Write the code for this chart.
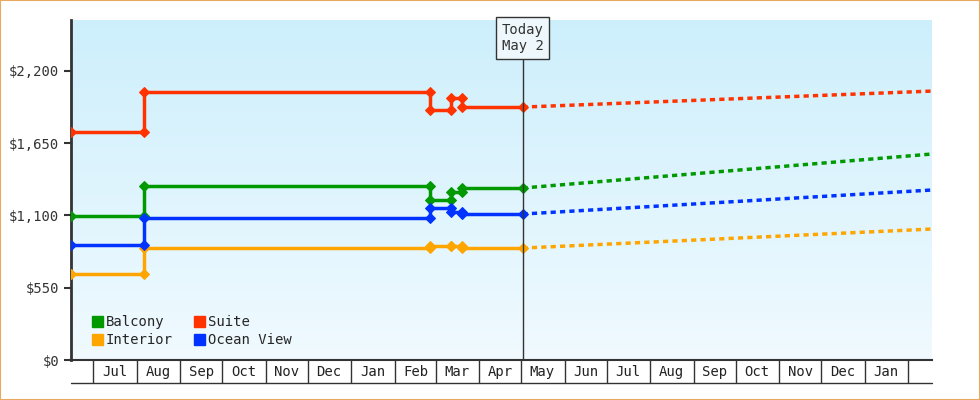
import numpy as np, pandas as pd, matplotlib
matplotlib.use("Agg")
import matplotlib.pyplot as plt, seaborn as sns
import matplotlib.dates as mdates
from matplotlib.lines import Line2D
from matplotlib.patches import Patch
from matplotlib.colors import LinearSegmentedColormap

sns.set_style("white")
plt.rcParams['font.family'] = ['DejaVu Sans Mono']

dates = ["2023-06-15","2023-08-06","2023-08-06","2024-02-26","2024-02-26","2024-03-12","2024-03-12","2024-03-20","2024-03-20","2024-05-02"]
suite    = [1735,1735,2040,2040,1903,1903,1994,1994,1925,1925]
balcony  = [1096,1096,1324,1324,1218,1218,1278,1278,1309,1309]
ocean    = [875,875,1081,1081,1157,1157,1126,1126,1111,1111]
interior = [654,654,852,852,868,868,868,868,852,852]
fc_dates = ["2024-05-02","2025-02-18"]
fc_suite = [1925,2047]; fc_balcony=[1309,1568]; fc_ocean=[1111,1294]; fc_interior=[852,997]
names = ["Balcony","Interior","Suite","Ocean View"]
colors = {"Balcony":"#009900","Suite":"#ff3300","Interior":"#ffa500","Ocean View":"#0033ff"}
hist = {"Balcony":balcony,"Suite":suite,"Interior":interior,"Ocean View":ocean}
fc = {"Balcony":fc_balcony,"Suite":fc_suite,"Interior":fc_interior,"Ocean View":fc_ocean}
months = ["Jul","Aug","Sep","Oct","Nov","Dec","Jan","Feb","Mar","Apr","May","Jun","Jul","Aug","Sep","Oct","Nov","Dec","Jan"]

fig = plt.figure(figsize=(9.8,4), dpi=100)
fig.patch.set_facecolor("white")
fig.patches.append(plt.Rectangle((0,0),1,1,transform=fig.transFigure,fill=False,ec="#e8a860",lw=1.5))
ax = fig.add_axes([71/980, 40/400, 861/980, 340/400])
x0, x1 = pd.Timestamp("2023-06-15"), pd.Timestamp("2025-02-18")
ax.set_xlim(x0, x1); ax.set_ylim(0, 2588)
grad = np.linspace(0,1,256).reshape(-1,1)
cm = LinearSegmentedColormap.from_list("g", ["#f0faff","#cdeffc"])
ax.imshow(grad, aspect="auto", cmap=cm, origin="lower", extent=[mdates.date2num(x0), mdates.date2num(x1), 0, 2588], zorder=0)

for n in names:
    df = pd.DataFrame({"d":pd.to_datetime(dates),"v":hist[n]})
    sns.lineplot(data=df, x="d", y="v", sort=False, estimator=None, color=colors[n], lw=2.5, marker="D", ms=5, mec=colors[n], ax=ax, zorder=3)
    dfc = pd.DataFrame({"d":pd.to_datetime(fc_dates),"v":fc[n]})
    sns.lineplot(data=dfc, x="d", y="v", estimator=None, color=colors[n], lw=2.5, ls=(0,(1.5,1.2)), ax=ax, zorder=3)

today = pd.Timestamp("2024-05-02")
ax.axvline(today, color="#333333", lw=1, zorder=4)
ax.text(today, 2450, "Today\nMay 2", ha="center", va="center", fontsize=10, color="#333",
        bbox=dict(boxstyle="square,pad=0.4", fc="#eef8fc", ec="#333", lw=1), zorder=5)

ax.set_yticks([0,550,1100,1650,2200])
ax.set_yticklabels(["$0","$550","$1,100","$1,650","$2,200"])
ax.tick_params(axis="y", left=True, length=5, width=1.5, color="#333", labelsize=10, labelcolor="#333")
for s in ["top","right"]: ax.spines[s].set_visible(False)
ax.spines["left"].set_linewidth(2); ax.spines["left"].set_color("#333")
ax.spines["bottom"].set_linewidth(1.5); ax.spines["bottom"].set_color("#333")
starts = pd.date_range("2023-07-01","2025-02-01",freq="MS")
ax.set_xticks(starts)
ax.set_xticklabels([])
ax.tick_params(axis="x", bottom=True, length=16.5, width=1, color="#333", direction="out")
mids = [s + pd.Timedelta(days=15) for s in starts[:-1]]
for m, lab in zip(mids, months):
    ax.text(m, -0.034, lab, transform=ax.get_xaxis_transform(), ha="center", va="center", fontsize=10, color="#222")
ax.add_line(Line2D([0,1],[-23/340,-23/340], transform=ax.transAxes, color="#333", lw=1, clip_on=False))
ax.set_xlabel(""); ax.set_ylabel("")
handles = [Patch(color=colors[n], label=n) for n in names]
ax.legend(handles=handles, ncol=2, loc="lower left", bbox_to_anchor=(0.01,0.0), frameon=False,
          fontsize=10, handlelength=0.8, handleheight=0.8, handletextpad=0.2, columnspacing=1.5, labelspacing=0.3)
fig.savefig("out.png", dpi=100)
